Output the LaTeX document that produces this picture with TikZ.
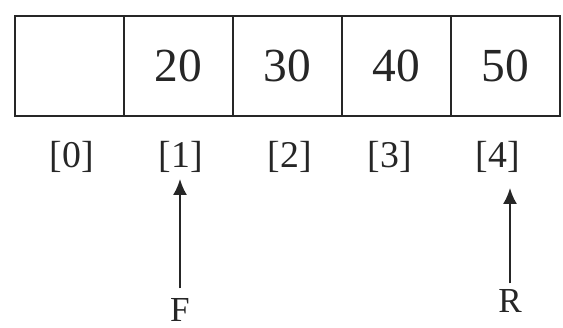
\documentclass[tikz,border=0pt]{standalone}
\usepackage{fontspec}
\setmainfont{Liberation Serif}
\usetikzlibrary{arrows.meta,positioning}
\definecolor{ink}{HTML}{262626}

\begin{document}
\begin{tikzpicture}[>=Latex,
 cell/.style={draw=ink,line width=1.4pt,minimum width=2.18cm,minimum height=2cm,inner sep=0pt,text=ink,font=\fontsize{27}{32}\selectfont},
 idx/.style={text=ink,font=\fontsize{21.5}{26}\selectfont},
 ptr/.style={text=ink,font=\fontsize{20}{24}\selectfont},
 a/.style={-{Latex[length=3.2mm,width=2.8mm]},line width=1.4pt,ink}]
\useasboundingbox (0,0) rectangle (11.26,6.54);

\node[cell] (c0) at (1.39,5.22) {};
\node[cell] (c1) at (3.57,5.22) {20};
\node[cell] (c2) at (5.75,5.22) {30};
\node[cell] (c3) at (7.93,5.22) {40};
\node[cell] (c4) at (10.11,5.22) {50};

\node[idx] (i0) at (1.44,3.40) {[0]};
\node[idx] (i1) at (3.62,3.40) {[1]};
\node[idx] (i2) at (5.80,3.40) {[2]};
\node[idx] (i3) at (7.80,3.40) {[3]};
\node[idx] (i4) at (9.96,3.40) {[4]};

\node[ptr] (F) at (3.60,0.34) {F};
\node[ptr] (R) at (10.20,0.52) {R};

\draw[a,shorten <=0.08cm] (F) -- (F |- i1.south);
\draw[a,shorten >=0.18cm] (R) -- (R |- i4.south);
\end{tikzpicture}
\end{document}
